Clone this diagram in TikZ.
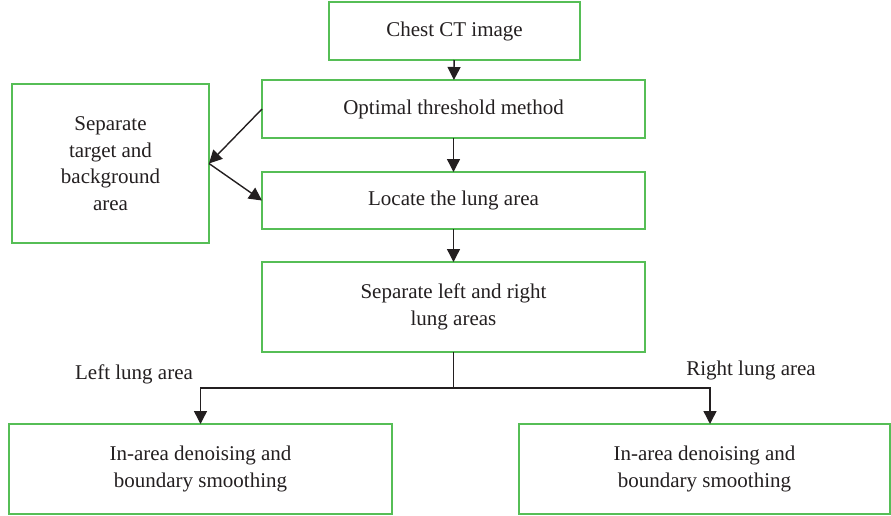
\documentclass[tikz,border=0pt]{standalone}
\usepackage{fontspec}
\setmainfont{Liberation Serif}
\usetikzlibrary{arrows.meta}
\definecolor{boxgreen}{RGB}{86,190,86}
\definecolor{inkblack}{RGB}{35,31,32}

\begin{document}
\begin{tikzpicture}[x=1pt,y=-1pt,
    box/.style={draw=boxgreen,line width=1.2pt,inner sep=0pt,outer sep=0pt,align=center,text=inkblack,font=\fontsize{21}{26.5}\selectfont},
    arr/.style={draw=inkblack,line width=1.4pt,-{Triangle[width=13pt,length=13pt]}},
    lbl/.style={text=inkblack,font=\fontsize{21}{26.5}\selectfont}]
    \useasboundingbox (0,0) rectangle (891,515);
    \node[box,minimum width=251pt,minimum height=58pt] (chest) at (454.5,31) {Chest CT image};
    \node[box,minimum width=383pt,minimum height=58pt] (thresh) at (453.5,109) {Optimal threshold method};
    \node[box,minimum width=383pt,minimum height=57pt] (locate) at (453.5,200.5) {Locate the lung area};
    \node[box,minimum width=383pt,minimum height=90pt] (split) at (453.5,307) {Separate left and right\\lung areas};
    \node[box,minimum width=197pt,minimum height=159pt] (side) at (110.5,163.5) {Separate\\target and\\background\\area};
    \node[box,minimum width=383pt,minimum height=90pt] (leftbox) at (200.5,469) {In-area denoising and\\boundary smoothing};
    \node[box,minimum width=371pt,minimum height=90pt] (rightbox) at (704.5,469) {In-area denoising and\\boundary smoothing};
    \node[lbl] (leftlbl) at (134,374) {Left lung area};
    \node[lbl] (rightlbl) at (751,370) {Right lung area};
    \coordinate (fork) at (453.5,388);
    \draw[arr] (chest) -- (thresh);
    \draw[arr] (thresh) -- (locate);
    \draw[arr] (locate) -- (split);
    \draw[arr] (thresh.west) -- (side.east);
    \draw[arr] (side.east) -- (locate.west);
    \draw[draw=inkblack,line width=1.4pt] (split) -- (fork);
    \draw[arr] (fork) -| (leftbox.north);
    \draw[arr] (fork) -| ([xshift=5.5pt]rightbox.north);
\end{tikzpicture}
\end{document}
